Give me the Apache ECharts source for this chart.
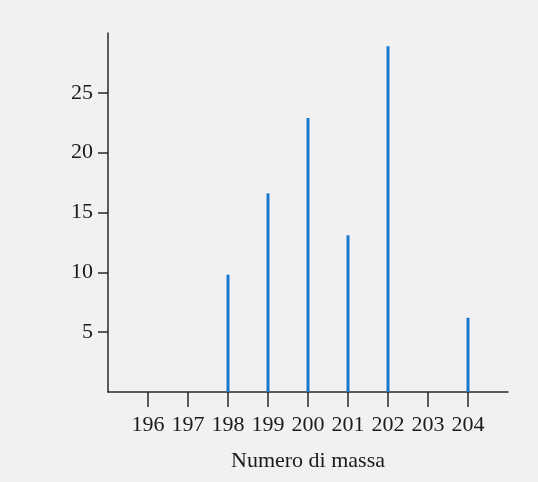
<!DOCTYPE html>
<html>
<head>
<meta charset="utf-8">
<script src="https://cdn.jsdelivr.net/npm/echarts@6/dist/echarts.min.js"></script>
<style>
html,body{margin:0;padding:0;background:#f3f0f2;}
#c{width:538px;height:482px;}
</style>
</head>
<body>
<div id="c"></div>
<script>
const massNumbers = [196, 197, 198, 199, 200, 201, 202, 203, 204];
const isotopeMass = [198, 199, 200, 201, 202, 204];
const abundance = [9.8, 16.6, 22.9, 13.1, 28.9, 6.2];
const yTicks = [5, 10, 15, 20, 25];
const xTitle = 'Numero di massa';

const chart = echarts.init(document.getElementById('c'));
const font = '"Liberation Serif","Times New Roman",serif';
chart.setOption({
  backgroundColor: '#f3f0f2',
  animation: false,
  grid: {left: 108, right: 30, top: 33, bottom: 90},
  xAxis: {
    type: 'value', min: 195, max: 205, interval: 1,
    name: xTitle, nameLocation: 'middle', nameGap: 58,
    nameTextStyle: {fontFamily: font, fontSize: 22, color: '#1a1a1a'},
    axisLine: {show: true, lineStyle: {color: '#2a2a2a', width: 1.5}},
    axisTick: {show: true, length: 15, customValues: massNumbers, lineStyle: {color: '#2a2a2a', width: 1.5}},
    axisLabel: {customValues: massNumbers, margin: 22, fontFamily: font, fontSize: 22, color: '#1a1a1a'},
    splitLine: {show: false}
  },
  yAxis: {
    type: 'value', min: 0, max: 30, interval: 5,
    axisLine: {show: true, lineStyle: {color: '#2a2a2a', width: 1.5}},
    axisTick: {show: true, length: 10, customValues: yTicks, lineStyle: {color: '#2a2a2a', width: 1.5}},
    axisLabel: {customValues: yTicks, margin: 15, fontFamily: font, fontSize: 22, color: '#1a1a1a'},
    splitLine: {show: false}
  },
  series: [{
    type: 'bar', barWidth: 3,
    itemStyle: {color: '#1a7ad0'},
    data: isotopeMass.map((m, i) => [m, abundance[i]])
  }]
});
</script>
</body>
</html>
